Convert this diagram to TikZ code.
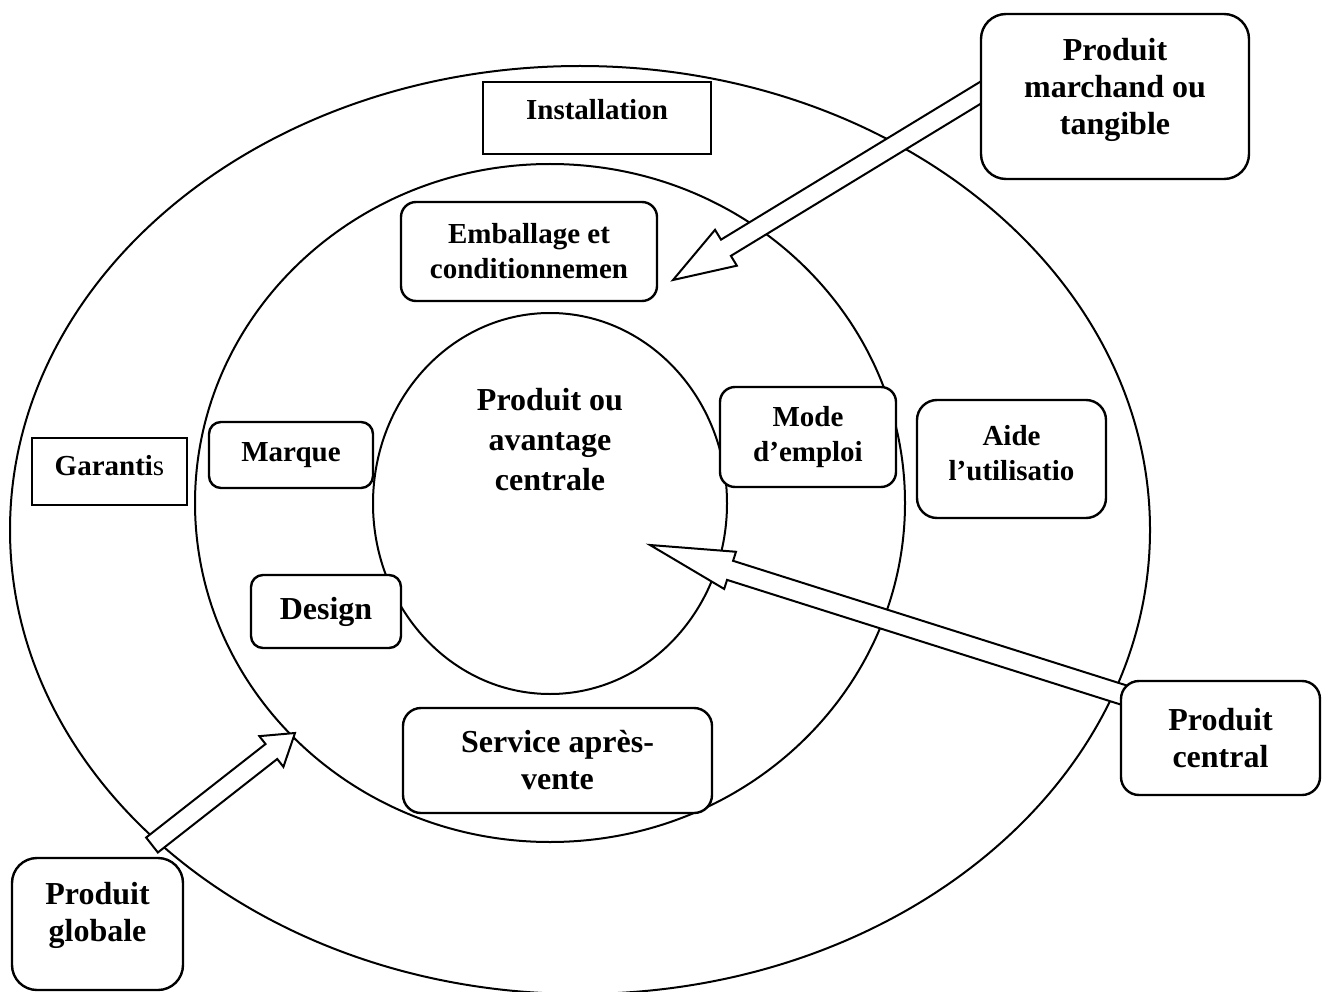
\documentclass[tikz,border=0pt]{standalone}
\usepackage{fontspec}
\setmainfont{Liberation Serif}
\usetikzlibrary{calc}
\pgfdeclarelayer{bg}
\pgfsetlayers{bg,main}
\newcommand{\blockarrow}[5]{%
  \coordinate (ba-h) at ($(#2)!#5!(#1)$);
  \draw[blk] ($(#1)!#3!90:(#2)$) -- ($(ba-h)!#3!90:(#2)$) -- ($(ba-h)!#4!90:(#2)$) -- (#2)
    -- ($(ba-h)!#4!-90:(#2)$) -- ($(ba-h)!#3!-90:(#2)$) -- ($(#1)!#3!-90:(#2)$) -- cycle;}
\begin{document}
\begin{tikzpicture}[x=1pt,y=-1pt,
  ring/.style={line width=2pt},
  rbox/.style={draw, line width=2.4pt, fill=white, rounded corners=#1, inner sep=0pt},
  rbox/.default=15pt,
  sbox/.style={draw, line width=2.4pt, fill=white, inner sep=0pt},
  txts/.style={font=\fontsize{29}{35}\selectfont\bfseries, align=center, inner sep=0pt},
  txtl/.style={font=\fontsize{32}{37}\selectfont\bfseries, align=center, inner sep=0pt},
  blk/.style={draw, line width=2pt, fill=white, line join=miter}]
\useasboundingbox (0,0) rectangle (1322,992);

% boxes
\node[sbox, minimum width=228pt, minimum height=72pt] (inst) at (597,118) {};
\node[txts] (inst-t) at (597,110) {Installation};
\node[rbox=15pt, txts, minimum width=256pt, minimum height=99pt] (emb) at (529,251.5) {Emballage et\\conditionnemen};
\node[rbox=12pt, txts, minimum width=164pt, minimum height=66pt] (marque) at (291,455) {Marque};
\node[sbox, minimum width=155pt, minimum height=67pt] (gar) at (109.5,471.5) {};
\node[txts] (gar-t) at (109.5,466) {Garanti{\mdseries s}};
\node[rbox=12pt, txtl, minimum width=150pt, minimum height=73pt] (design) at (326,611.5) {Design};
\node[rbox=18pt, txtl, minimum width=309pt, minimum height=105pt] (serv) at (557.5,760.5) {Service après-\\vente};
\node[rbox=15pt, txts, minimum width=176pt, minimum height=100pt] (mode) at (808,437) {Mode\\d’emploi};
\node[rbox=20pt, minimum width=189pt, minimum height=118pt] (aide) at (1011.5,459) {};
\node[txts] (aide-t) at (1011.5,453) {Aide\\l’utilisatio};
\node[rbox=25pt, minimum width=268pt, minimum height=165pt] (mpt) at (1115,96.5) {};
\node[txtl] (mpt-t) at (1115,90) {Produit\\marchand ou\\tangible};
\node[rbox=18pt, txtl, minimum width=199pt, minimum height=114pt] (pc) at (1220.5,738) {Produit\\central};
\node[rbox=25pt, minimum width=171pt, minimum height=132pt] (glob) at (97.5,924) {};
\node[txtl] (glob-t) at (97.5,915) {Produit\\globale};
\node[txtl, font=\fontsize{32}{40}\selectfont\bfseries] (core-t) at (550,440) {Produit ou\\avantage\\centrale};

\begin{pgfonlayer}{bg}
  \draw[ring] (580,530) ellipse [x radius=570pt, y radius=464pt];
  \draw[ring] (550,503) ellipse [x radius=355pt, y radius=339pt];
  \draw[ring] (550,503.5) ellipse [x radius=177pt, y radius=190.5pt];

  % arrow 1: Produit marchand -> Emballage
  \coordinate (t1) at (673,280);
  \coordinate (s1) at ($(mpt.north west)!0.48!(mpt.south west)$);
  \coordinate (s1e) at ($(s1)!-8pt!(t1)$);
  \blockarrow{s1e}{t1}{9.5pt}{21pt}{62pt}
  % arrow 2: Produit central -> centre
  \coordinate (t2) at (650,545);
  \coordinate (s2) at ($(pc.north west)!0.12!(pc.south west)$);
  \coordinate (s2e) at ($(s2)!-6pt!(t2)$);
  \blockarrow{s2e}{t2}{10pt}{19.5pt}{84pt}
  % arrow 3: Produit globale -> middle ring
  \coordinate (s3) at (152,845);
  \coordinate (t3) at (295,733);
  \blockarrow{s3}{t3}{9.5pt}{19.5pt}{30pt}
\end{pgfonlayer}
\end{tikzpicture}
\end{document}
